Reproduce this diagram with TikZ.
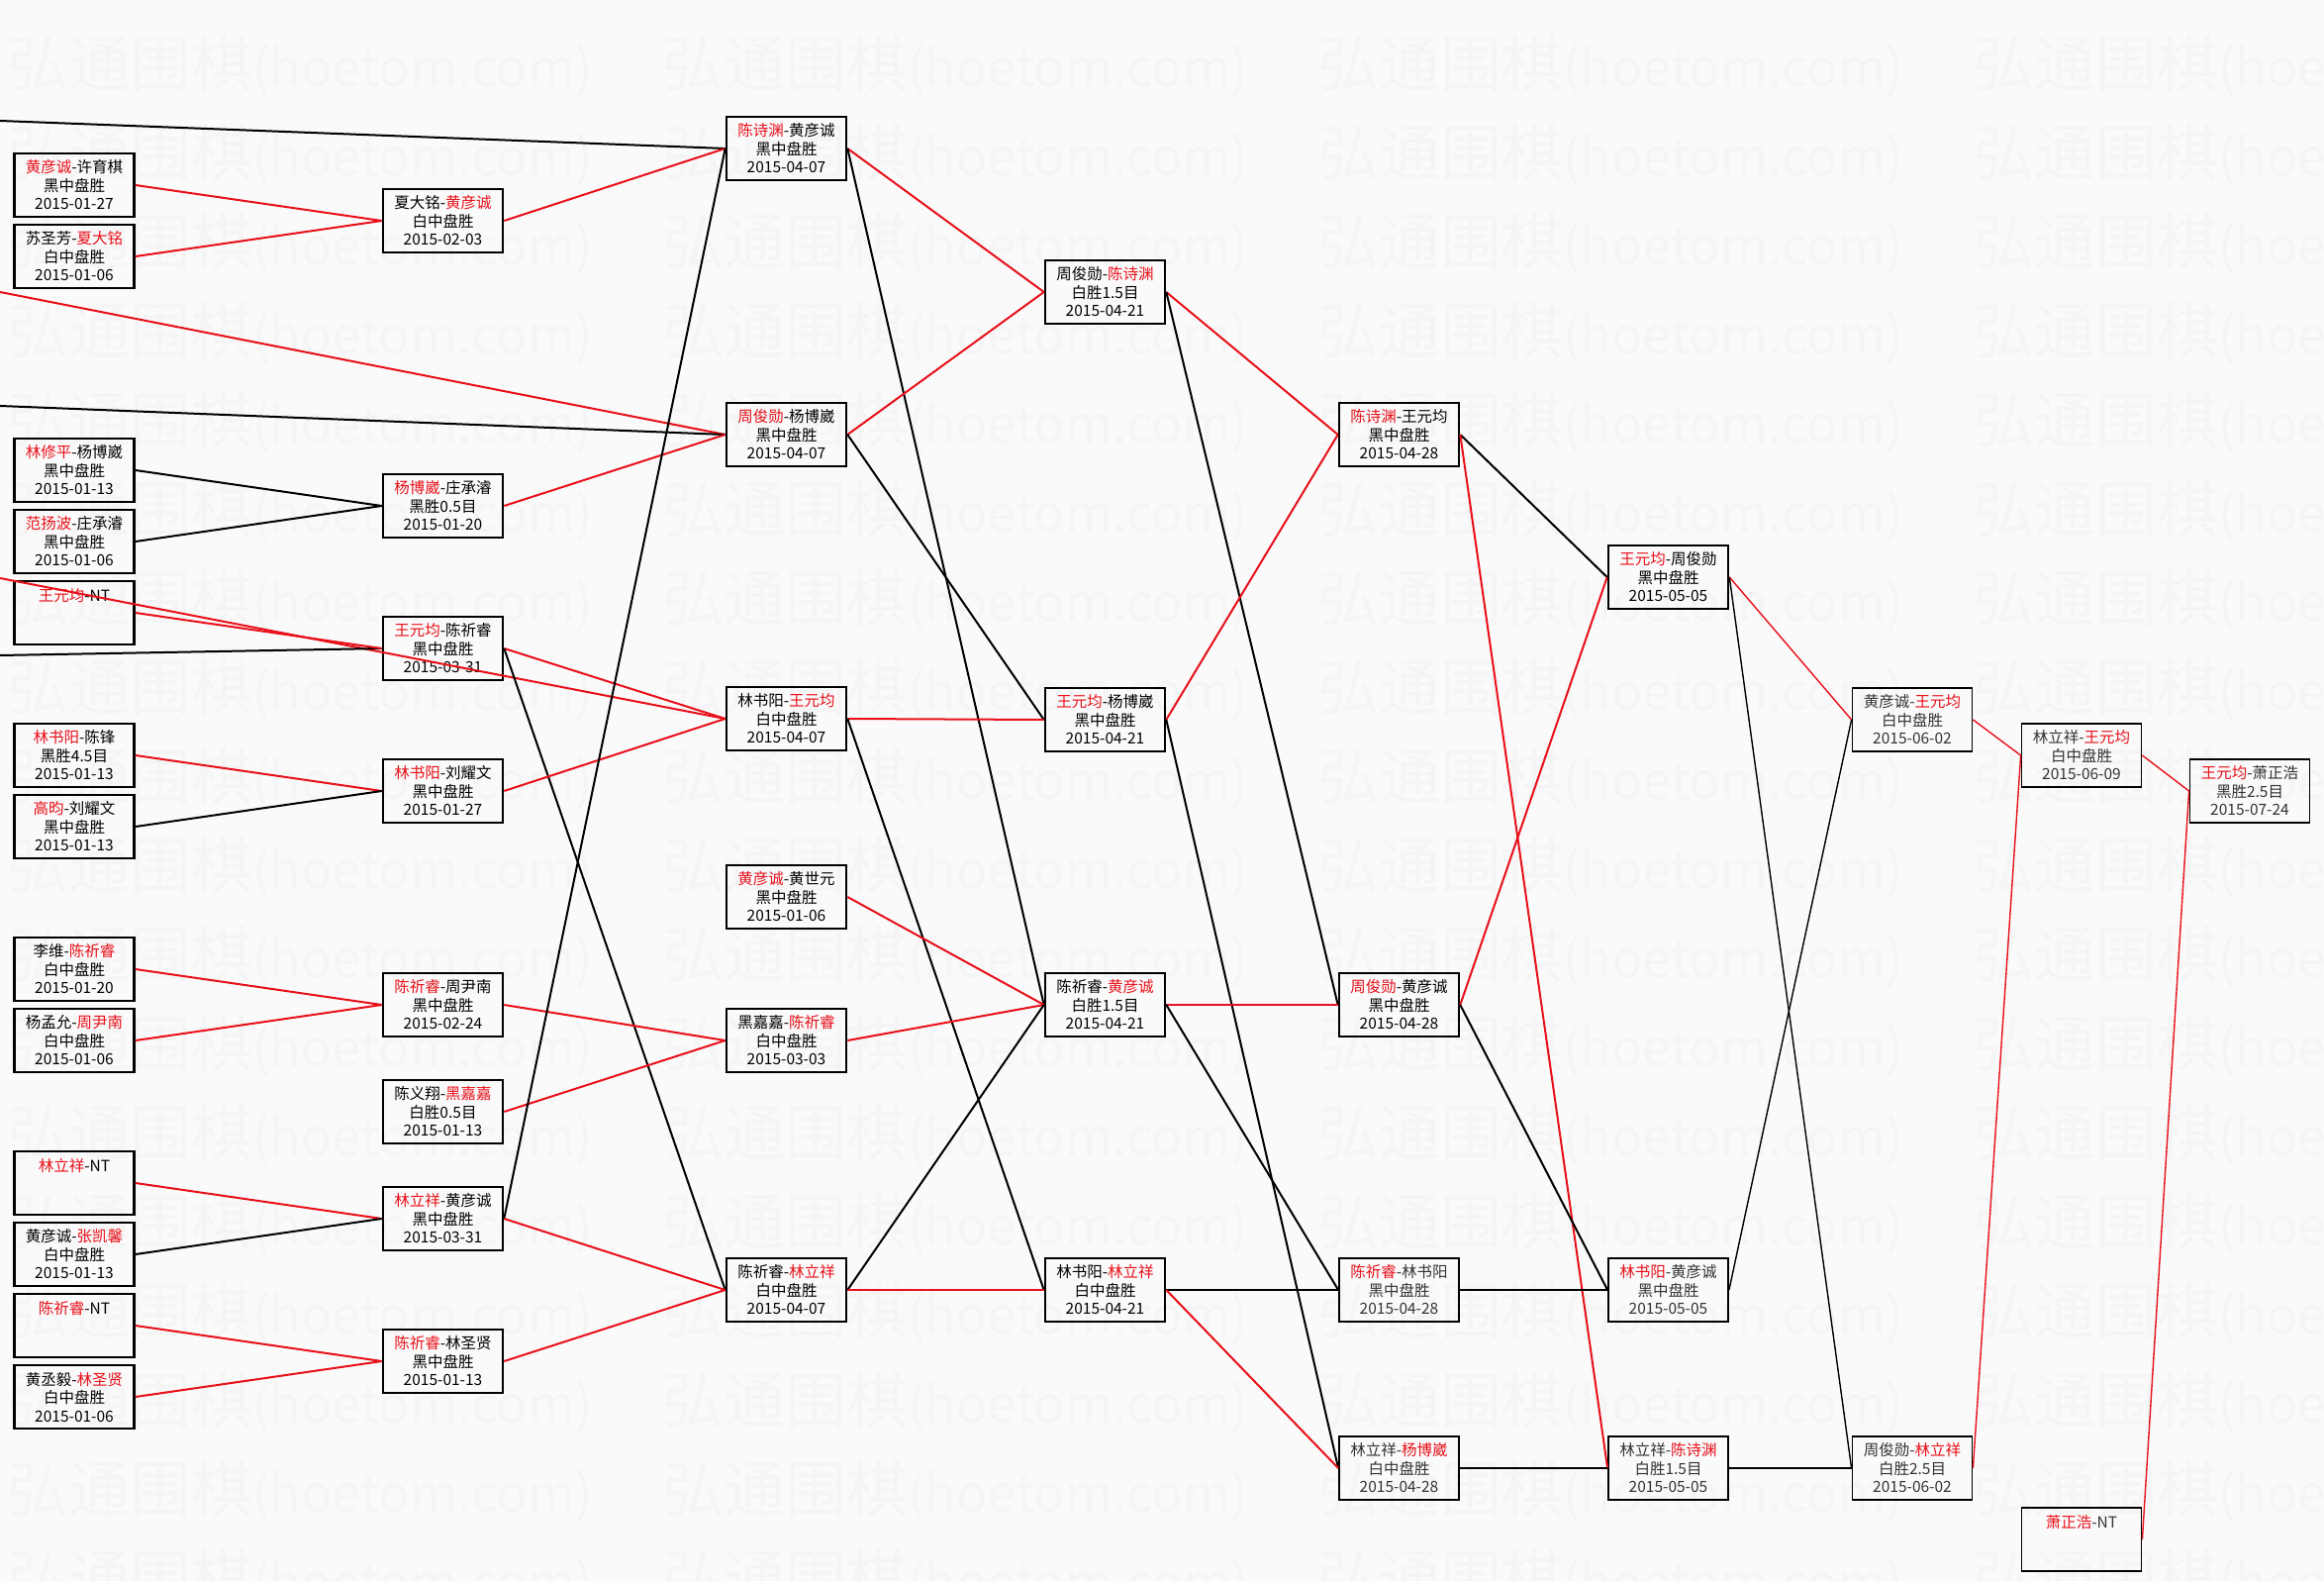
\documentclass[tikz,border=0pt]{standalone}
\usepackage{fontspec}
\setmainfont{Noto Sans CJK SC}
\definecolor{win}{HTML}{E8101A}
\definecolor{paper}{HTML}{FAFAFA}

\begin{document}
\begin{tikzpicture}[x=1pt, y=-1pt,
  game/.style={draw, line width=2.6pt, minimum width=121pt, minimum height=64pt,
              inner sep=0pt, align=center, font=\fontsize{15.5}{18.5}\selectfont},
  gamelite/.style={game, line width=1.8pt, text=black!80},
  won/.style={color=win, line width=2pt},
  lost/.style={color=black, line width=2pt},
  late/.style={line width=1.4pt},
  wmark/.style={anchor=west, inner sep=0pt, text=black!4,
              font=\fontsize{62}{62}\selectfont},
]
\useasboundingbox (0,0) rectangle (2348,1597);
\clip (0,0) rectangle (2348,1597);
\fill[paper] (0,0) rectangle (2348,1597);

\foreach \r in {0,...,17}
  \foreach \c in {0,...,3}
    \node[wmark] (wm-\r-\c) at ({7+662*\c},{67+90*\r})
      {弘通围棋{\fontsize{52}{52}\selectfont(hoetom.com)}};

\node[game] (a1) at (75,187) {\textcolor{win}{黄彦诚}-许育棋\\黑中盘胜\\2015-01-27};
\node[game] (a2) at (75,259) {苏圣芳-\textcolor{win}{夏大铭}\\白中盘胜\\2015-01-06};
\node[game] (a3) at (75,475) {\textcolor{win}{林修平}-杨博崴\\黑中盘胜\\2015-01-13};
\node[game] (a4) at (75,547) {\textcolor{win}{范扬波}-庄承濬\\黑中盘胜\\2015-01-06};
\node[game] (a5) at (75,619) {\textcolor{win}{王元均}-NT\\~\\~};
\node[game] (a6) at (75,763) {\textcolor{win}{林书阳}-陈锋\\黑胜4.5目\\2015-01-13};
\node[game] (a7) at (75,835) {\textcolor{win}{高昀}-刘耀文\\黑中盘胜\\2015-01-13};
\node[game] (a8) at (75,979) {李维-\textcolor{win}{陈祈睿}\\白中盘胜\\2015-01-20};
\node[game] (a9) at (75,1051) {杨孟允-\textcolor{win}{周尹南}\\白中盘胜\\2015-01-06};
\node[game] (a10) at (75,1195) {\textcolor{win}{林立祥}-NT\\~\\~};
\node[game] (a11) at (75,1267) {黄彦诚-\textcolor{win}{张凯馨}\\白中盘胜\\2015-01-13};
\node[game] (a12) at (75,1339) {\textcolor{win}{陈祈睿}-NT\\~\\~};
\node[game] (a13) at (75,1411) {黄丞毅-\textcolor{win}{林圣贤}\\白中盘胜\\2015-01-06};

\node[game] (b1) at (447.5,223) {夏大铭-\textcolor{win}{黄彦诚}\\白中盘胜\\2015-02-03};
\node[game] (b2) at (447.5,511) {\textcolor{win}{杨博崴}-庄承濬\\黑胜0.5目\\2015-01-20};
\node[game] (b3) at (447.5,655) {\textcolor{win}{王元均}-陈祈睿\\黑中盘胜\\2015-03-31};
\node[game] (b4) at (447.5,799) {\textcolor{win}{林书阳}-刘耀文\\黑中盘胜\\2015-01-27};
\node[game] (b5) at (447.5,1015) {\textcolor{win}{陈祈睿}-周尹南\\黑中盘胜\\2015-02-24};
\node[game] (b6) at (447.5,1123) {陈义翔-\textcolor{win}{黑嘉嘉}\\白胜0.5目\\2015-01-13};
\node[game] (b7) at (447.5,1231) {\textcolor{win}{林立祥}-黄彦诚\\黑中盘胜\\2015-03-31};
\node[game] (b8) at (447.5,1375) {\textcolor{win}{陈祈睿}-林圣贤\\黑中盘胜\\2015-01-13};

\node[game] (c1) at (794.5,150) {\textcolor{win}{陈诗渊}-黄彦诚\\黑中盘胜\\2015-04-07};
\node[game] (c2) at (794.5,439) {\textcolor{win}{周俊勋}-杨博崴\\黑中盘胜\\2015-04-07};
\node[game] (c3) at (794.5,726) {林书阳-\textcolor{win}{王元均}\\白中盘胜\\2015-04-07};
\node[game] (c4) at (794.5,906) {\textcolor{win}{黄彦诚}-黄世元\\黑中盘胜\\2015-01-06};
\node[game] (c5) at (794.5,1051) {黑嘉嘉-\textcolor{win}{陈祈睿}\\白中盘胜\\2015-03-03};
\node[game] (c6) at (794.5,1303) {陈祈睿-\textcolor{win}{林立祥}\\白中盘胜\\2015-04-07};

\node[game] (d1) at (1116.5,295) {周俊勋-\textcolor{win}{陈诗渊}\\白胜1.5目\\2015-04-21};
\node[game] (d2) at (1116.5,727) {\textcolor{win}{王元均}-杨博崴\\黑中盘胜\\2015-04-21};
\node[game] (d3) at (1116.5,1015) {陈祈睿-\textcolor{win}{黄彦诚}\\白胜1.5目\\2015-04-21};
\node[game] (d4) at (1116.5,1303) {林书阳-\textcolor{win}{林立祥}\\白中盘胜\\2015-04-21};

\node[game] (e1) at (1413.5,439) {\textcolor{win}{陈诗渊}-王元均\\黑中盘胜\\2015-04-28};
\node[game] (e2) at (1413.5,1015) {\textcolor{win}{周俊勋}-黄彦诚\\黑中盘胜\\2015-04-28};
\node[gamelite] (e3) at (1413.5,1303) {\textcolor{win}{陈祈睿}-林书阳\\黑中盘胜\\2015-04-28};
\node[gamelite] (e4) at (1413.5,1483) {林立祥-\textcolor{win}{杨博崴}\\白中盘胜\\2015-04-28};

\node[game] (f1) at (1685.5,583) {\textcolor{win}{王元均}-周俊勋\\黑中盘胜\\2015-05-05};
\node[gamelite] (f2) at (1685.5,1303) {\textcolor{win}{林书阳}-黄彦诚\\黑中盘胜\\2015-05-05};
\node[gamelite] (f3) at (1685.5,1483) {林立祥-\textcolor{win}{陈诗渊}\\白胜1.5目\\2015-05-05};

\node[gamelite] (g1) at (1932,727) {黄彦诚-\textcolor{win}{王元均}\\白中盘胜\\2015-06-02};
\node[gamelite] (g2) at (1932,1483) {周俊勋-\textcolor{win}{林立祥}\\白胜2.5目\\2015-06-02};

\node[gamelite] (h1) at (2103,763) {林立祥-\textcolor{win}{王元均}\\白中盘胜\\2015-06-09};
\node[gamelite] (h2) at (2103,1555) {\textcolor{win}{萧正浩}-NT\\~\\~};

\node[gamelite] (k1) at (2273,799) {\textcolor{win}{王元均}-萧正浩\\黑胜2.5目\\2015-07-24};

\coordinate (o1) at (0,122);
\coordinate (o2) at (0,295);
\coordinate (o3) at (0,410);
\coordinate (o4) at (0,584);
\coordinate (o5) at (0,662);

\draw[lost] (o1) -- (c1.west);
\draw[won] (o2) -- (c2.west);
\draw[lost] (o3) -- (c2.west);
\draw[won] (o4) -- (c3.west);
\draw[lost] (o5) -- (b3.west);

\draw[won] (a1.east) -- (b1.west);
\draw[won] (a2.east) -- (b1.west);
\draw[lost] (a3.east) -- (b2.west);
\draw[lost] (a4.east) -- (b2.west);
\draw[won] (a5.east) -- (b3.west);
\draw[won] (a6.east) -- (b4.west);
\draw[lost] (a7.east) -- (b4.west);
\draw[won] (a8.east) -- (b5.west);
\draw[won] (a9.east) -- (b5.west);
\draw[won] (a10.east) -- (b7.west);
\draw[lost] (a11.east) -- (b7.west);
\draw[won] (a12.east) -- (b8.west);
\draw[won] (a13.east) -- (b8.west);

\draw[won] (b1.east) -- (c1.west);
\draw[won] (b2.east) -- (c2.west);
\draw[won] (b3.east) -- (c3.west);
\draw[lost] (b3.east) -- (c6.west);
\draw[won] (b4.east) -- (c3.west);
\draw[won] (b5.east) -- (c5.west);
\draw[won] (b6.east) -- (c5.west);
\draw[lost] (b7.east) -- (c1.west);
\draw[won] (b7.east) -- (c6.west);
\draw[won] (b8.east) -- (c6.west);

\draw[won] (c1.east) -- (d1.west);
\draw[lost] (c1.east) -- (d3.west);
\draw[won] (c2.east) -- (d1.west);
\draw[lost] (c2.east) -- (d2.west);
\draw[won] (c3.east) -- (d2.west);
\draw[lost] (c3.east) -- (d4.west);
\draw[won] (c4.east) -- (d3.west);
\draw[won] (c5.east) -- (d3.west);
\draw[lost] (c6.east) -- (d3.west);
\draw[won] (c6.east) -- (d4.west);

\draw[won] (d1.east) -- (e1.west);
\draw[lost] (d1.east) -- (e2.west);
\draw[won] (d2.east) -- (e1.west);
\draw[lost] (d2.east) -- (e4.west);
\draw[won] (d3.east) -- (e2.west);
\draw[lost] (d3.east) -- (e3.west);
\draw[lost] (d4.east) -- (e3.west);
\draw[won] (d4.east) -- (e4.west);

\draw[lost] (e1.east) -- (f1.west);
\draw[won] (e1.east) -- (f3.west);
\draw[won] (e2.east) -- (f1.west);
\draw[lost] (e2.east) -- (f2.west);
\draw[lost, late] (e3.east) -- (f2.west);
\draw[lost, late] (e4.east) -- (f3.west);

\draw[won, late] (f1.east) -- (g1.west);
\draw[lost, late] (f1.east) -- (g2.west);
\draw[lost, late] (f2.east) -- (g1.west);
\draw[lost, late] (f3.east) -- (g2.west);

\draw[won, late] (g1.east) -- (h1.west);
\draw[won, late] (g2.east) -- (h1.west);

\draw[won, late] (h1.east) -- (k1.west);
\draw[won, late] (h2.east) -- (k1.west);
\end{tikzpicture}
\end{document}
